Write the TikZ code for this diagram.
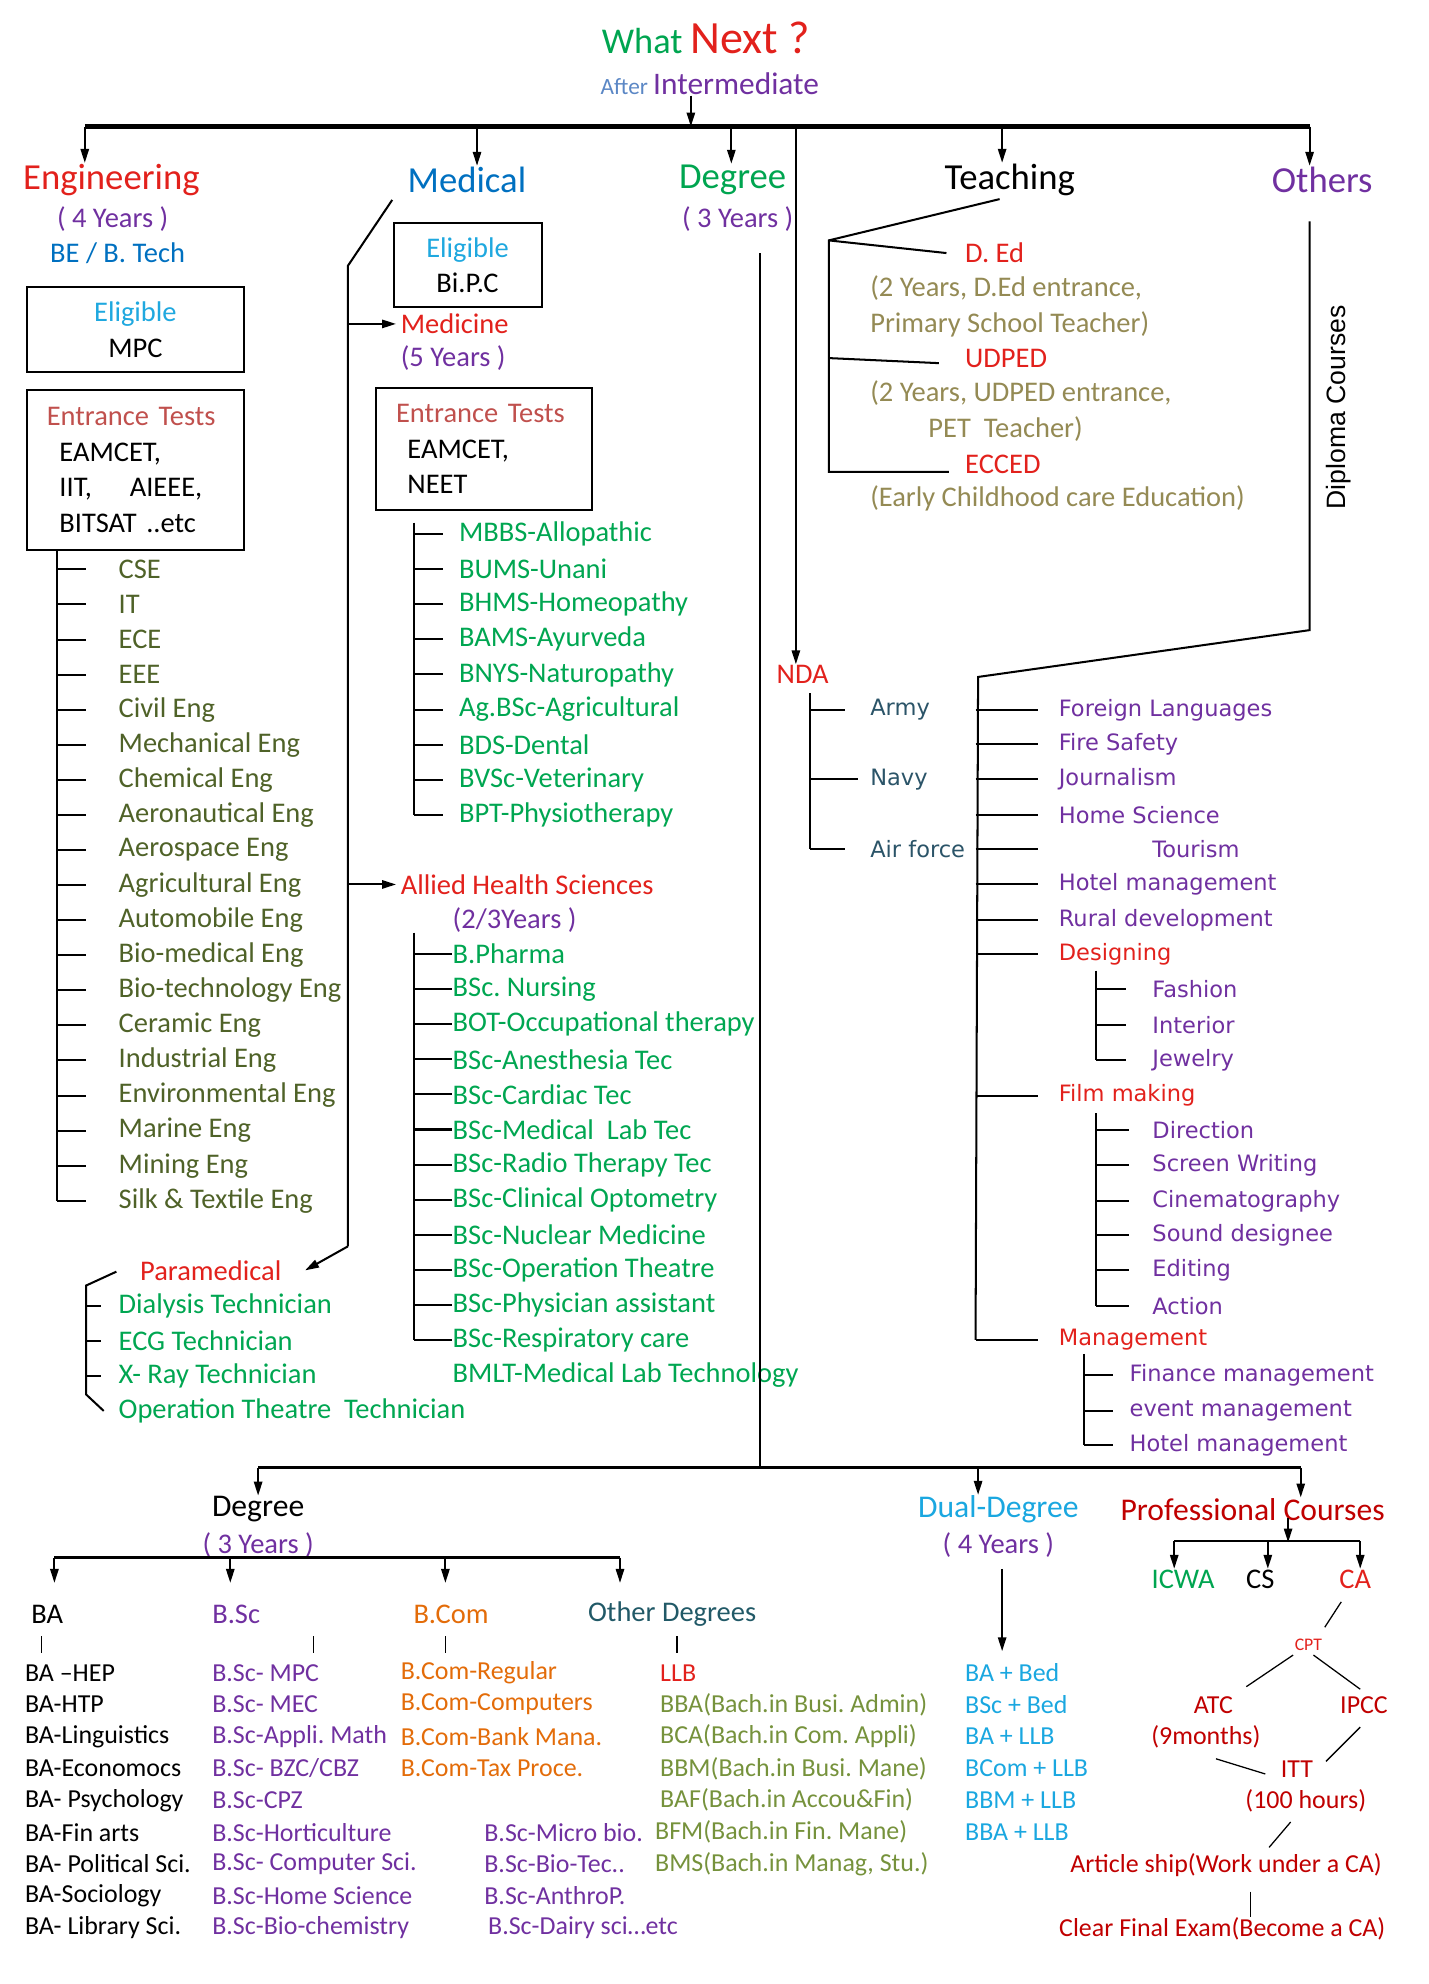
\documentclass[tikz,border=0pt]{standalone}
\usepackage{fontspec}
\setmainfont{Carlito}
\newfontfamily\verdfont{DejaVu Sans}
\newfontfamily\arialfont{Liberation Sans}
\usetikzlibrary{arrows.meta, positioning, calc}
\frenchspacing
\definecolor{engred}{HTML}{E2211C}
\definecolor{medblue}{HTML}{0070C0}
\definecolor{degreen}{HTML}{00A550}
\definecolor{medgreen}{HTML}{00A651}
\definecolor{purp}{HTML}{7030A0}
\definecolor{eligblue}{HTML}{1FA8DF}
\definecolor{entred}{HTML}{C0504D}
\definecolor{engolive}{HTML}{4F6228}
\definecolor{teachtan}{HTML}{948A54}
\definecolor{ndateal}{HTML}{2B5468}
\definecolor{odteal}{HTML}{215967}
\definecolor{comorange}{HTML}{E36C09}
\definecolor{odolive}{HTML}{76923C}
\definecolor{dualblue}{HTML}{1AA7E0}
\definecolor{darkred}{HTML}{C00000}
\definecolor{afterblue}{HTML}{5B87C5}

\tikzset{
  arr/.style={-{Triangle[length=11pt,width=6.5pt]}},
  listitem/.style={inner sep=0pt, anchor=west, font=\fontsize{22.5}{27}\selectfont},
  clabel/.style={inner sep=0pt, font=\fontsize{22.5}{27}\selectfont},
  headlabel/.style={inner sep=0pt, font=\fontsize{29}{32}\selectfont},
  lowhead/.style={inner sep=0pt, font=\fontsize{25}{28}\selectfont},
  vitem/.style={inner sep=0pt, anchor=west, font=\verdfont\fontsize{17.8}{20}\selectfont},
  lowitem/.style={inner sep=0pt, anchor=west, font=\fontsize{20.5}{24}\selectfont},
  calabel/.style={inner sep=0pt, text=darkred, font=\fontsize{20.5}{24}\selectfont},
  boxed/.style={draw, line width=1.6pt, inner sep=0pt, font=\fontsize{22.5}{28}\selectfont}
}

\begin{document}
\begin{tikzpicture}[x=1pt, y=-1pt, line width=1.6pt]
  \useasboundingbox (0,0) rectangle (1129,1568);

  % Title
  \node[inner sep=0pt] (title) at (558,30)
    {\fontsize{28.7}{30}\selectfont\textcolor{degreen}{What} \fontsize{36.5}{38}\selectfont\textcolor{engred}{Next ?}};
  \node[inner sep=0pt] (after) at (561,66)
    {\fontsize{18.4}{20}\selectfont\textcolor{afterblue}{After} \fontsize{24.8}{26}\selectfont\textcolor{purp}{Intermediate}};
  \coordinate (hub) at (546,100);
  \draw[arr] (after.south -| hub) -- (hub);

  % Main bar and headings
  \node[headlabel, text=engred] (engh) at (88,142) {Engineering};
  \node[headlabel, text=medblue] (medh) at (369,142) {Medical};
  \node[headlabel, text=degreen] (degh) at (579,142) {Degree};
  \node[headlabel] (teachh) at (798,142) {Teaching};
  \node[headlabel, text=purp] (othh) at (1045,142) {Others};
  \draw[line width=3.5pt] (67,100) -- (1035,100);
  \foreach \h/\x in {engh/67, medh/377, degh/578, teachh/792, othh/1035}
    \draw[arr] (\x,100) -- (\h.north -| \x,0);

  % Engineering
  \node[clabel, text=purp] (engyrs) at (89,173) {( 4 Years )};
  \node[clabel, text=medblue] (betech) at (93,200) {BE / B. Tech};
  \node[boxed, minimum width=172, minimum height=67, align=center] (engelig) at (107,260.5)
    {\textcolor{eligblue}{Eligible}\\MPC};
  \node[boxed, minimum width=172, minimum height=127, align=left, text width=172] (engtest) at (107,371.5)
    {\hspace*{16pt}\textcolor{entred}{Entrance Tests}\\\hspace*{26pt}EAMCET,\\\hspace*{26pt}IIT,\ \ \ \ AIEEE,\\\hspace*{26pt}BITSAT ..etc};
  \foreach \t [count=\i] in {CSE, IT, ECE, EEE, Civil Eng, Mechanical Eng, Chemical Eng,
      Aeronautical Eng, Aerospace Eng, Agricultural Eng, Automobile Eng, Bio-medical Eng,
      Bio-technology Eng, Ceramic Eng, Industrial Eng, Environmental Eng, Marine Eng,
      Mining Eng, Silk \& Textile Eng}{
    \node[listitem, text=engolive] (eng\i) at (93,{450+27.72*(\i-1)}) {\t};
    \draw (eng\i.west -| 45,0) -- (eng\i.west -| 68,0);
  }
  \draw (engtest.south -| 45,0) -- (eng19.west -| 45,0);

  % Medical
  \node[boxed, minimum width=117, minimum height=67, align=center] (medelig) at (369.5,209.5)
    {\textcolor{eligblue}{Eligible}\\Bi.P.C};
  \node[listitem, text=engred] (medicine) at (316,256) {Medicine};
  \node[listitem, text=purp] (medyrs) at (316,283) {(5 Years )};
  \node[boxed, minimum width=171, minimum height=96, align=left, text width=171] (medtest) at (382.5,355)
    {\hspace*{16pt}\textcolor{entred}{Entrance Tests}\\\hspace*{25pt}EAMCET,\\\hspace*{25pt}NEET};
  \foreach \t [count=\i] in {MBBS-Allopathic, BUMS-Unani, BHMS-Homeopathy, BAMS-Ayurveda,
      BNYS-Naturopathy, Ag.BSc-Agricultural, BDS-Dental, BVSc-Veterinary, BPT-Physiotherapy}{
    \node[listitem, text=medgreen] (mbbs\i) at (362,{422+27.75*(\i-1)}) {\t};
    \draw (mbbs\i.west -| 327,0) -- (mbbs\i.west -| 350,0);
  }
  \draw (327,413) -- (mbbs9.west -| 327,0);

  \node[listitem, text=engred] (allied) at (316,699) {Allied Health Sciences};
  \node[listitem, text=purp] (alliedyrs) at (357,727) {(2/3Years )};
  \foreach \t [count=\i] in {B.Pharma, BSc. Nursing, BOT-Occupational therapy, BSc-Anesthesia Tec,
      BSc-Cardiac Tec, BSc-Medical\ \ Lab Tec, BSc-Radio Therapy Tec, BSc-Clinical Optometry,
      BSc-Nuclear Medicine, BSc-Operation Theatre, BSc-Physician assistant, BSc-Respiratory care}{
    \node[listitem, text=medgreen] (ahs\i) at (357,{754+27.73*(\i-1)}) {\t};
    \draw (ahs\i.west) -- (ahs\i.west -| 327,0);
  }
  \draw (327,737) -- (ahs12.west -| 327,0);
  \node[listitem, text=medgreen] (bmlt) at (357,1087) {BMLT-Medical Lab Technology};

  \node[listitem, text=engred] (para) at (110,1004) {Paramedical};
  \foreach \t [count=\i] in {Dialysis Technician, ECG Technician, X- Ray Technician,
      Operation Theatre\ \ Technician}
    \node[listitem, text=medgreen] (para\i) at (93,{1032+27.7*(\i-1)}) {\t};
  \draw (para.west) ++(-18,1) -- (68,1016) -- (68,1102) -- ([xshift=-11pt]para4.west);
  \foreach \i in {1,2,3}
    \draw (para\i.west -| 68,0) -- (para\i.west -| 80,0);

  \coordinate (medtop) at (310,158);
  \draw (medtop) -- (275,210) -- (275,985);
  \draw[arr] (medicine.west -| 275,0) -- ([xshift=-3pt]medicine.west);
  \draw[arr] (allied.west -| 275,0) -- ([xshift=-3pt]allied.west);
  \draw[arr] (275,985) -- ([xshift=18pt]para.east);

  % Degree
  \node[clabel, text=purp] (degyrs) at (583,173) {( 3 Years )};
  \draw (601,200) -- (601,1160);

  % Teaching
  \node[listitem, text=engred] (ded) at (762,200) {D. Ed};
  \node[listitem, text=teachtan] (dedinfo) at (687,228) {(2 Years, D.Ed entrance,};
  \node[listitem, text=teachtan] (dedjob) at (687,256) {Primary School Teacher)};
  \node[listitem, text=engred] (udped) at (762,283) {UDPED};
  \node[listitem, text=teachtan] (udinfo) at (687,311) {(2 Years, UDPED entrance,};
  \node[listitem, text=teachtan] (udjob) at (733,339) {PET\ \ Teacher)};
  \node[listitem, text=engred] (ecced) at (762,367) {ECCED};
  \node[listitem, text=teachtan] (ecinfo) at (687,394) {(Early Childhood care Education)};
  \coordinate (tfork) at (655,190);
  \draw (teachh.south) ++(-8,2) -- (tfork) -- (655,373) -- ([xshift=-12pt,yshift=-6pt]ecced.west);
  \draw (tfork) -- ([xshift=-14pt]ded.west);
  \draw (udped.west -| tfork) -- ([xshift=-20pt,yshift=-4pt]udped.west);

  % NDA
  \node[listitem, text=engred] (nda) at (613,533) {NDA};
  \draw[arr] (629,100) -- (nda.north -| 629,0);
  \foreach \y/\t/\e [count=\i] in {561/Army/668, 616/Navy/678, 671/Air force/668}{
    \node[vitem, text=ndateal] (army\i) at (687,\y) {\t};
    \draw (army\i.west -| 640,0) -- (army\i.west -| \e,0);
  }
  \draw (640,548) -- (army3.west -| 640,0);

  % Others
  \node[rotate=90, inner sep=0pt, font=\arialfont\fontsize{21}{22}\selectfont] (diploma) at (1058,322) {Diploma Courses};
  \foreach \y/\x/\c/\t [count=\i] in {561/836/purp/Foreign Languages, 588/836/purp/Fire Safety,
      616/836/purp/Journalism, 644/836/purp/Home Science, 671/910/purp/Tourism,
      699/836/purp/Hotel management, 727/836/purp/Rural development, 754/836/engred/Designing,
      866/836/engred/Film making, 1059/836/engred/Management}{
    \node[vitem, text=\c] (oth\i) at (\x,\y) {\t};
    \draw (oth\i.west -| 771,0) -- (oth\i.west -| 820,0);
  }
  \draw (1035,175) -- (1035,498) -- (773,535) -- (771,1059);
  \foreach \y/\t [count=\i] in {782/Fashion, 810/Interior, 838/Jewelry}{
    \node[vitem, text=purp] (des\i) at (910,\y) {\t};
    \draw (des\i.west -| 866,0) -- (des\i.west -| 890,0);
  }
  \draw (866,767) -- (des3.west -| 866,0);
  \foreach \y/\t [count=\i] in {893/Direction, 921/Screen Writing, 949/Cinematography,
      976/Sound designee, 1004/Editing, 1032/Action}{
    \node[vitem, text=purp] (film\i) at (910,\y) {\t};
    \draw (film\i.west -| 866,0) -- (film\i.west -| 892,0);
  }
  \draw (866,880) -- (film6.west -| 866,0);
  \foreach \y/\t [count=\i] in {1087/Finance management, 1115/event management, 1142/Hotel management}{
    \node[vitem, text=purp] (mgmt\i) at (892,\y) {\t};
    \draw (mgmt\i.west -| 857,0) -- (mgmt\i.west -| 880,0);
  }
  \draw (857,1070) -- (mgmt3.west -| 857,0);

  % After degree: lower bar
  \node[lowhead] (deg2) at (204,1193) {Degree};
  \node[clabel, text=purp] (deg2yrs) at (204,1221) {( 3 Years )};
  \node[lowhead, text=dualblue] (dual) at (789,1193) {Dual-Degree};
  \node[clabel, text=purp] (dualyrs) at (789,1221) {( 4 Years )};
  \node[lowhead, text=darkred] (prof) at (990,1193) {Professional Courses};
  \draw[line width=2.2pt] (204,1160) -- (1028,1160);
  \draw[arr] (204,1160) -- (deg2.north -| 204,0);
  \draw[arr] (773,1160) -- (dual.north -| 773,0);
  \draw[arr] (1028,1160) -- (prof.north -| 1028,0);

  % Degree branches
  \node[clabel, anchor=west] (bah) at (24,1276) {BA};
  \node[clabel, anchor=west, text=purp] (bsch) at (167,1276) {B.Sc};
  \node[clabel, anchor=west, text=comorange] (bcomh) at (326,1276) {B.Com};
  \node[clabel, anchor=west, text=odteal] (othdh) at (464,1276) {Other Degrees};
  \draw[line width=2.2pt] (43,1231) -- (490,1231);
  \foreach \x in {43, 182, 352, 490}
    \draw[arr] (\x,1231) -- ++(0,20);
  \foreach \x in {33, 248, 352, 535}
    \draw[line width=1pt] (\x,1293) -- (\x,1306);

  \foreach \t [count=\i] in {BA –HEP, BA-HTP, BA-Linguistics, BA-Economocs, BA- Psychology,
      BA-Fin arts, BA- Political Sci., BA-Sociology, BA- Library Sci.}
    \node[lowitem] (ba\i) at (19,{1322+25.2*(\i-1)}) {\t};
  \foreach \t [count=\i] in {B.Sc- MPC, B.Sc- MEC, B.Sc-Appli. Math, B.Sc- BZC/CBZ, B.Sc-CPZ,
      B.Sc-Horticulture, B.Sc- Computer Sci., B.Sc-Home Science, B.Sc-Bio-chemistry}
    \node[lowitem, text=purp] (bsc\i) at (167,{1322+25.2*(\i-1)}) {\t};
  \foreach \t [count=\i] in {B.Com-Regular, B.Com-Computers, B.Com-Bank Mana., B.Com-Tax Proce.}
    \node[lowitem, text=comorange] (bcom\i) at (316,{1322+25.2*(\i-1)}) {\t};
  \foreach \t/\x [count=\i from 6] in {B.Sc-Micro bio./382, B.Sc-Bio-Tec../382,
      B.Sc-AnthroP./382, B.Sc-Dairy sci…etc/385}
    \node[lowitem, text=purp] (bsctwo\i) at (\x,{1322+25.2*(\i-1)}) {\t};
  \node[lowitem, text=engred] (llb) at (521,1322) {LLB};
  \foreach \t/\x [count=\i from 2] in {BBA(Bach.in Busi. Admin)/521, BCA(Bach.in Com. Appli)/521,
      BBM(Bach.in Busi. Mane)/521, BAF(Bach.in Accou\&Fin)/521, BFM(Bach.in Fin. Mane)/517,
      {BMS(Bach.in Manag, Stu.)}/517}
    \node[lowitem, text=odolive] (odeg\i) at (\x,{1322+25.2*(\i-1)}) {\t};

  % Dual degree
  \foreach \t [count=\i] in {BA + Bed, BSc + Bed, BA + LLB, BCom + LLB, BBM + LLB, BBA + LLB}
    \node[lowitem, text=dualblue] (dd\i) at (762,{1322+25.2*(\i-1)}) {\t};
  \draw[arr] (792,1240) -- (792,1305);

  % Professional courses
  \node[clabel, text=degreen] (icwa) at (935,1248) {ICWA};
  \node[clabel] (cs) at (996,1248) {CS};
  \node[clabel, text=engred] (ca) at (1071,1248) {CA};
  \draw[arr] (1018,1200) -- (1018,1219);
  \draw (928,1218) -- (1075,1218);
  \draw[arr] (928,1218) -- (icwa.north -| 928,0);
  \draw[arr] (1002,1218) -- (cs.north -| 1002,0);
  \draw[arr] (1075,1218) -- (ca.north -| 1075,0);
  \node[inner sep=0pt, text=engred, font=\fontsize{14}{16}\selectfont] (cpt) at (1034,1300) {CPT};
  \node[calabel] (atc) at (959,1348) {ATC};
  \node[calabel] (atcdur) at (953,1373) {(9months)};
  \node[calabel] (ipcc) at (1078,1348) {IPCC};
  \node[calabel] (itt) at (1025,1398) {ITT};
  \node[calabel] (ittdur) at (1032,1423) {(100 hours)};
  \node[calabel] (artship) at (969,1474) {Article ship(Work under a CA)};
  \node[calabel] (final) at (966,1524) {Clear Final Exam(Become a CA)};
  \draw[line width=1pt] (1060,1266) -- (1047,1286);
  \draw[line width=1pt] (1022,1308) -- (985,1333);
  \draw[line width=1pt] (1038,1308) -- (1075,1335);
  \draw[line width=1pt] (961,1390) -- (1000,1402);
  \draw[line width=1pt] (1075,1365) -- (1048,1392);
  \draw[line width=1pt] (1020,1440) -- (1003,1460);
  \draw[line width=1pt] (988,1495) -- (988,1515);
\end{tikzpicture}
\end{document}
